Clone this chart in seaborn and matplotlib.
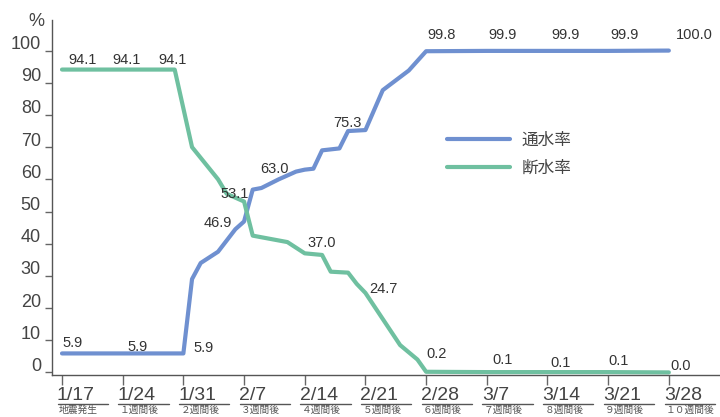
import numpy as np
import pandas as pd
import matplotlib
matplotlib.use("Agg")
import matplotlib.pyplot as plt
import seaborn as sb
from matplotlib.transforms import ScaledTranslation, blended_transform_factory

# days counted from 1/17
tsuusui_days = [0, 7, 14, 15, 16, 18, 20, 21, 22, 23, 25, 27, 28, 29, 30, 32, 33,
                35, 37, 40, 42, 49, 56, 63, 70]
tsuusui_vals = [5.9, 5.9, 5.9, 29.0, 34.0, 37.5, 44.5, 46.9, 56.8, 57.3, 60.0, 62.4,
                63.0, 63.3, 69.0, 69.6, 75.0, 75.3, 87.7, 93.8, 99.8, 99.9, 99.9,
                99.9, 100.0]

dansui_days = [0, 7, 13, 15, 18, 19, 21, 22, 26, 28, 30, 31, 33, 34, 35, 39, 41,
               42, 49, 56, 63, 70]
dansui_vals = [94.1, 94.1, 94.1, 70.0, 60.0, 55.5, 53.1, 42.5, 40.5, 37.0, 36.5,
               31.3, 31.0, 27.5, 24.7, 8.5, 4.0, 0.2, 0.1, 0.1, 0.1, 0.0]

week_days = [0, 7, 14, 21, 28, 35, 42, 49, 56, 63, 70]
week_labels = ["1/17", "1/24", "1/31", "2/7", "2/14", "2/21", "2/28", "3/7",
               "3/14", "3/21", "3/28"]
week_sub = ["地震発生", "１週間後", "２週間後", "３週間後", "４週間後", "５週間後",
            "６週間後", "７週間後", "８週間後", "９週間後", "１０週間後"]

tsuusui_week = [5.9, 5.9, 5.9, 46.9, 63.0, 75.3, 99.8, 99.9, 99.9, 99.9, 100.0]
dansui_week = [94.1, 94.1, 94.1, 53.1, 37.0, 24.7, 0.2, 0.1, 0.1, 0.1, 0.0]

# label offsets in pixels (dx, dy)
off_tsuusui = [(11, 10), (15, 6), (20, 5), (-26, -2), (-30, 1), (-18, 7),
               (15, 16), (16, 16), (18, 16), (16, 16), (25, 16)]
off_dansui = [(21, 10), (4, 10), (-11, 10), (-9, 8), (17, 10), (18, 4),
              (10, 18), (16, 12), (13, 9), (10, 11), (12, 6)]

blue = "#6f90d0"
green = "#6fc0a0"
txt = "#333333"

sb.set_theme(style="white")
plt.rcParams["font.family"] = ["Liberation Sans", "Noto Sans CJK JP", "DejaVu Sans"]

df = pd.concat([
    pd.DataFrame({"day": tsuusui_days, "rate": tsuusui_vals, "series": "通水率"}),
    pd.DataFrame({"day": dansui_days, "rate": dansui_vals, "series": "断水率"}),
])

fig = plt.figure(figsize=(7.2, 4.17), dpi=100)
ax = fig.add_axes([52 / 720, 42 / 417, 668 / 720, 355 / 417])

sb.lineplot(data=df, x="day", y="rate", hue="series", estimator=None,
            palette={"通水率": blue, "断水率": green}, lw=3, ax=ax)

ax.set_xlim(-1.153, 75.9)
ax.set_ylim(-0.8, 109.5)
ax.set_xlabel("")
ax.set_ylabel("")

for s in ["top", "right"]:
    ax.spines[s].set_visible(False)
for s in ["left", "bottom"]:
    ax.spines[s].set_color("#555555")
    ax.spines[s].set_linewidth(1)

ax.set_yticks(np.arange(0, 101, 10))
ax.tick_params(axis="y", left=True, direction="out", length=5, width=1,
               color="#666666", pad=3, labelsize=13, labelcolor="#444444")
up = ScaledTranslation(0, 8 / 100, fig.dpi_scale_trans)
for lab in ax.get_yticklabels():
    lab.set_transform(lab.get_transform() + up)

ax.set_xticks(week_days)
ax.set_xticklabels([""] * len(week_days))
ax.tick_params(axis="x", bottom=True, direction="out", length=7, width=1,
               color="#666666")

fig.text(36 / 720, 1 - 22 / 417, "%", ha="center", va="center", fontsize=13,
         color="#444444")

# date labels with underline and small caption
btrans = blended_transform_factory(ax.transData, ax.transAxes)
uline = btrans + ScaledTranslation(0, -29 / 100, fig.dpi_scale_trans)
for d, lab, sub in zip(week_days, week_labels, week_sub):
    ax.annotate(lab, xy=(d, 0), xycoords=btrans, xytext=(-5, -20),
                textcoords="offset pixels", ha="left", va="center",
                fontsize=14, color="#444444", annotation_clip=False)
    ax.plot([d - 0.5, d + 5.3], [0, 0], transform=uline, color="#555555",
            lw=1, clip_on=False)
    ax.annotate(sub, xy=(d, 0), xycoords=btrans, xytext=(-3, -35),
                textcoords="offset pixels", ha="left", va="center",
                fontsize=7, color="#555555", annotation_clip=False)

for d, v, (dx, dy) in zip(week_days, tsuusui_week, off_tsuusui):
    ax.annotate(f"{v:.1f}", xy=(d, v), xytext=(dx, dy), textcoords="offset pixels",
                ha="center", va="center", fontsize=10.5, color=txt,
                annotation_clip=False)
for d, v, (dx, dy) in zip(week_days, dansui_week, off_dansui):
    ax.annotate(f"{v:.1f}", xy=(d, v), xytext=(dx, dy), textcoords="offset pixels",
                ha="center", va="center", fontsize=10.5, color=txt,
                annotation_clip=False)

handles, labels = ax.get_legend_handles_labels()
ax.legend(handles, labels, loc="upper left", bbox_to_anchor=(0.591, 0.683),
          frameon=False, borderpad=0, borderaxespad=0, handlelength=3.8,
          handletextpad=0.7, labelspacing=0.8, fontsize=12, labelcolor="#444444")

fig.savefig("out.png", dpi=100)
